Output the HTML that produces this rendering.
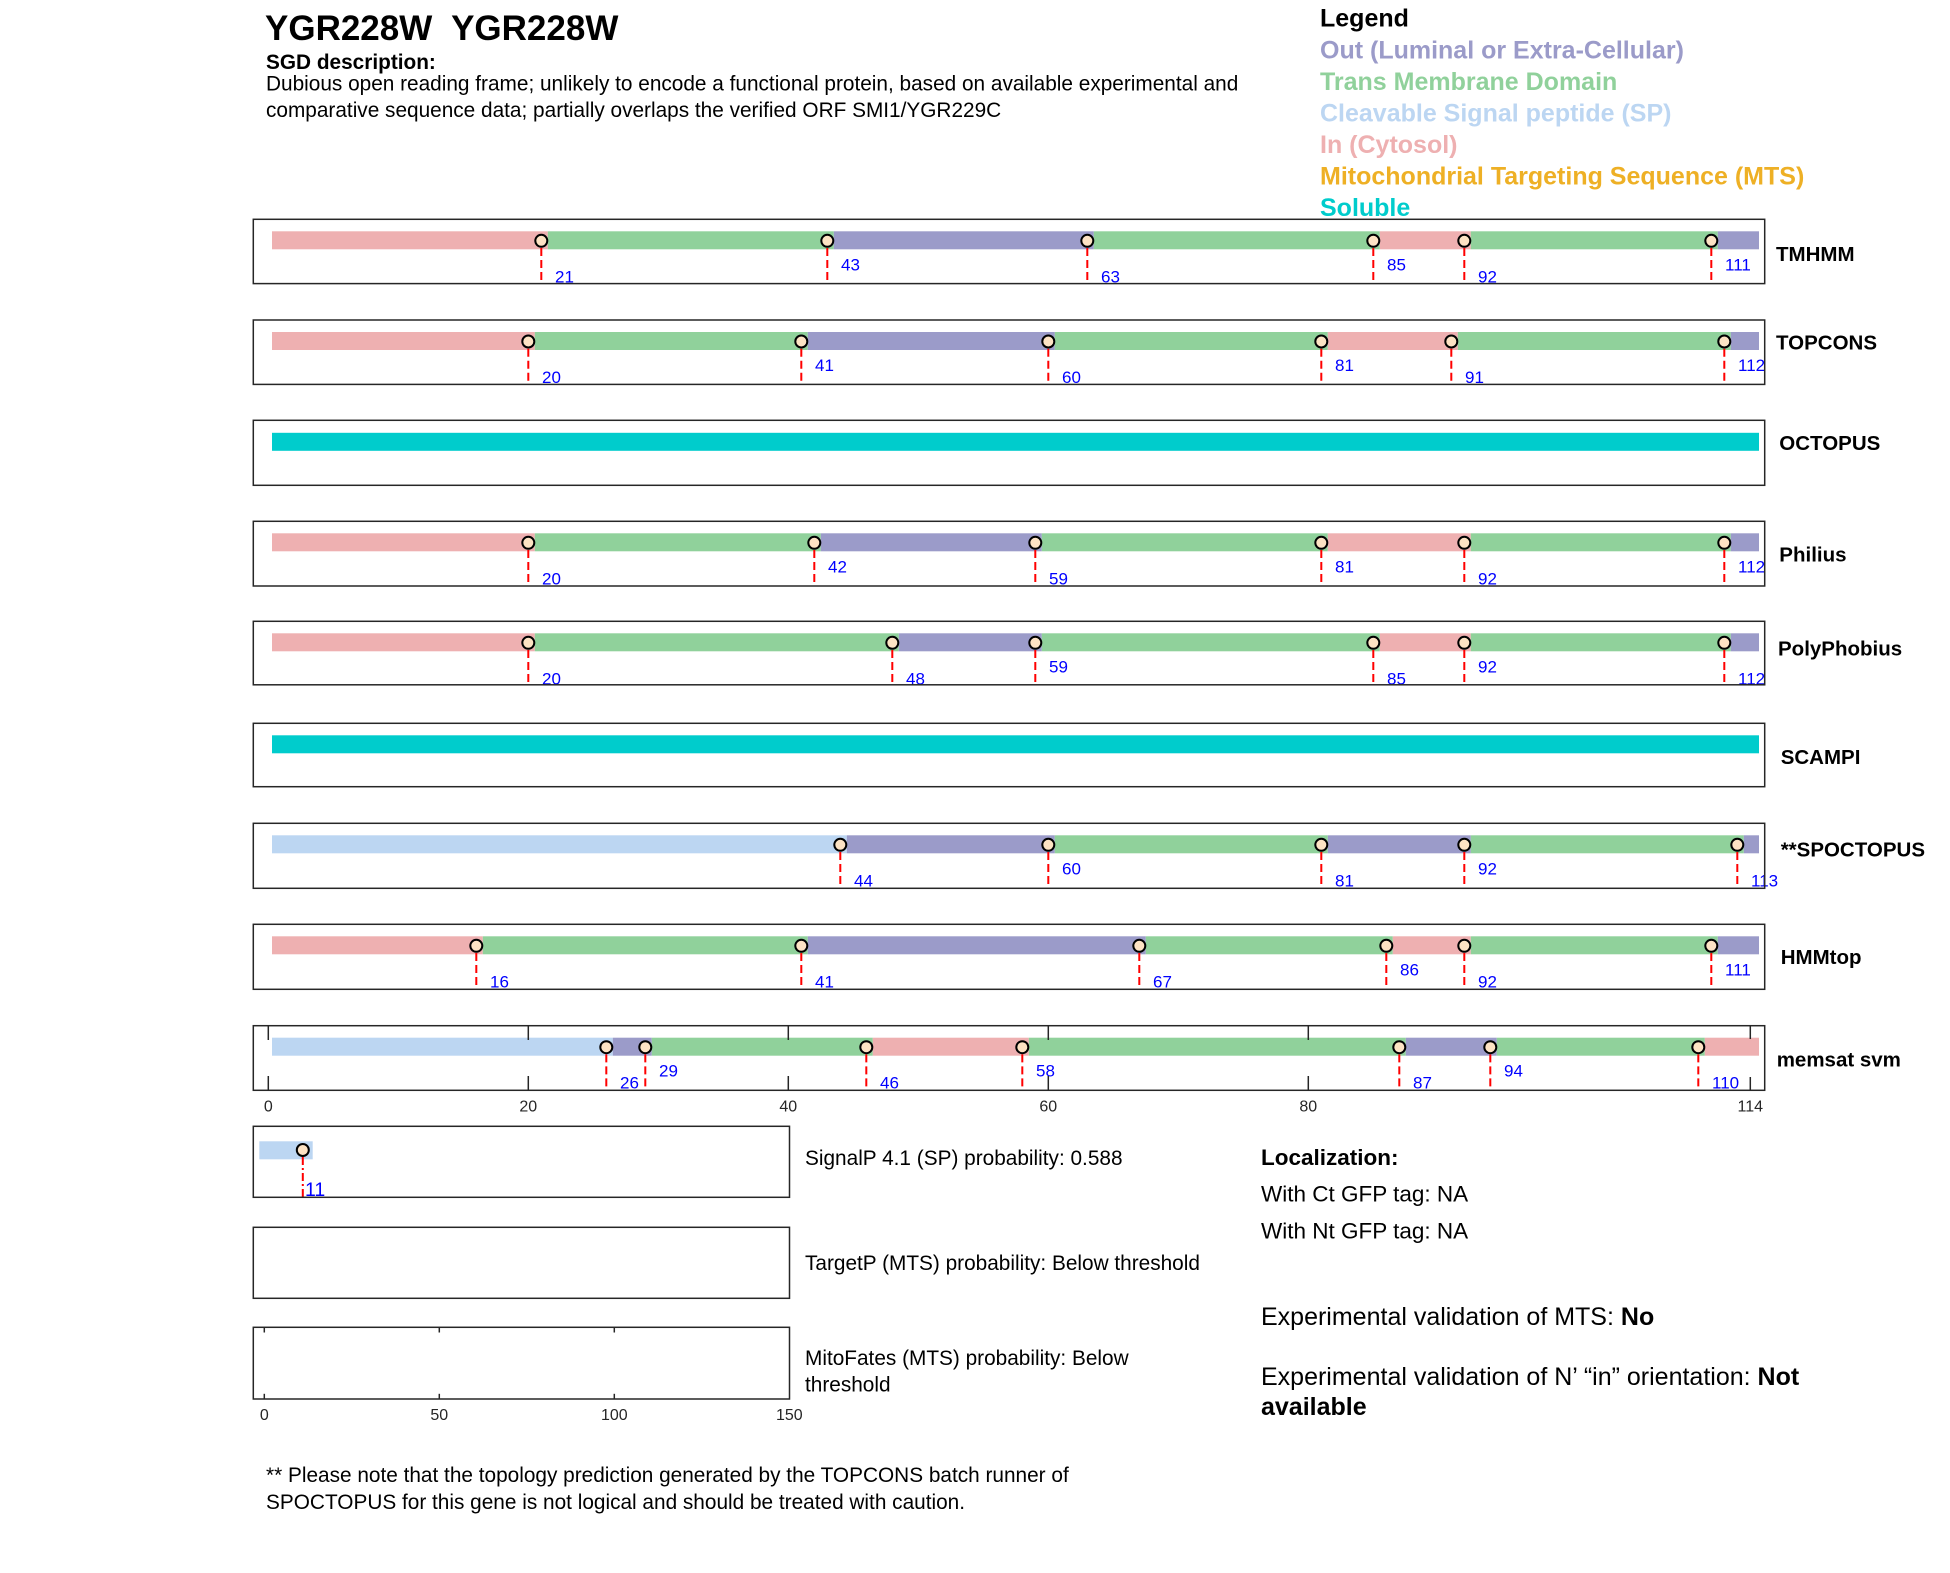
<!DOCTYPE html>
<html>
<head>
<meta charset="utf-8">
<style>
html,body{margin:0;padding:0;background:#fff;}
svg{display:block;}
.f{font-family:"Liberation Sans",Arial,sans-serif;}
.b{font-weight:bold;}
.pan{fill:none;stroke:#262626;stroke-width:1.5;}
.d{stroke:#ff0000;stroke-width:2;stroke-dasharray:8,4;}
.m{fill:#fde3c4;stroke:#000;stroke-width:2;}
.n{fill:#0000ff;font-size:17px;font-family:"Liberation Sans",Arial,sans-serif;}
.lab{font-size:20.5px;font-weight:bold;font-family:"Liberation Sans",Arial,sans-serif;fill:#000;}
.tk{stroke:#262626;stroke-width:1.5;}
.tl{fill:#262626;font-size:16px;font-family:"Liberation Sans",Arial,sans-serif;text-anchor:middle;}
.P{fill:#eeb0b1;}
.G{fill:#90d19b;}
.U{fill:#9b9bc9;}
.L{fill:#bcd6f2;}
.S{fill:#00cccc;}
</style>
</head>
<body>
<svg width="1950" height="1573" viewBox="0 0 1950 1573" xmlns="http://www.w3.org/2000/svg">
<rect x="0" y="0" width="1950" height="1573" fill="#fff"/>

<!-- Title & description -->
<text x="265" y="40" class="f b" font-size="35" xml:space="preserve">YGR228W&#160; YGR228W</text>
<text x="266" y="69" class="f b" font-size="20.8">SGD description:</text>
<text x="266" y="90.5" class="f" font-size="20.8">Dubious open reading frame; unlikely to encode a functional protein, based on available experimental and</text>
<text x="266" y="117" class="f" font-size="20.8">comparative sequence data; partially overlaps the verified ORF SMI1/YGR229C</text>

<!-- Legend -->
<g class="f b" font-size="25">
<text x="1320" y="26.5" fill="#000">Legend</text>
<text x="1320" y="58.5" fill="#9b9bc9">Out (Luminal or Extra-Cellular)</text>
<text x="1320" y="90" fill="#90d19b">Trans Membrane Domain</text>
<text x="1320" y="121.5" fill="#bcd6f2">Cleavable Signal peptide (SP)</text>
<text x="1320" y="153" fill="#eeb0b1">In (Cytosol)</text>
<text x="1320" y="184.5" fill="#eeb025">Mitochondrial Targeting Sequence (MTS)</text>
<text x="1320" y="216" fill="#00cccc">Soluble</text>
</g>

<!-- TMHMM T=219.3 -->
<g>
<rect x="272" y="231.3" width="275.8" height="18" class="P"/>
<rect x="547.8" y="231.3" width="286" height="18" class="G"/>
<rect x="833.8" y="231.3" width="260" height="18" class="U"/>
<rect x="1093.8" y="231.3" width="286" height="18" class="G"/>
<rect x="1379.8" y="231.3" width="91" height="18" class="P"/>
<rect x="1470.8" y="231.3" width="247" height="18" class="G"/>
<rect x="1717.8" y="231.3" width="41.2" height="18" class="U"/>
<line x1="541.3" y1="248" x2="541.3" y2="283.5" class="d"/><circle cx="541.3" cy="240.8" r="6" class="m"/><text x="555" y="282.3" class="n">21</text>
<line x1="827.3" y1="248" x2="827.3" y2="283.5" class="d"/><circle cx="827.3" cy="240.8" r="6" class="m"/><text x="841" y="270.3" class="n">43</text>
<line x1="1087.3" y1="248" x2="1087.3" y2="283.5" class="d"/><circle cx="1087.3" cy="240.8" r="6" class="m"/><text x="1101" y="282.3" class="n">63</text>
<line x1="1373.3" y1="248" x2="1373.3" y2="283.5" class="d"/><circle cx="1373.3" cy="240.8" r="6" class="m"/><text x="1387" y="270.3" class="n">85</text>
<line x1="1464.3" y1="248" x2="1464.3" y2="283.5" class="d"/><circle cx="1464.3" cy="240.8" r="6" class="m"/><text x="1478" y="282.3" class="n">92</text>
<line x1="1711.3" y1="248" x2="1711.3" y2="283.5" class="d"/><circle cx="1711.3" cy="240.8" r="6" class="m"/><text x="1725" y="270.3" class="n">111</text>
<rect x="253.3" y="219.3" width="1511.4" height="64.3" class="pan"/>
<text x="1776" y="261" class="lab">TMHMM</text>
</g>

<!-- TOPCONS T=320 -->
<g>
<rect x="272" y="332" width="262.8" height="18" class="P"/>
<rect x="534.8" y="332" width="273" height="18" class="G"/>
<rect x="807.8" y="332" width="247" height="18" class="U"/>
<rect x="1054.8" y="332" width="273" height="18" class="G"/>
<rect x="1327.8" y="332" width="130" height="18" class="P"/>
<rect x="1457.8" y="332" width="273" height="18" class="G"/>
<rect x="1730.8" y="332" width="28.2" height="18" class="U"/>
<line x1="528.3" y1="348.7" x2="528.3" y2="384.5" class="d"/><circle cx="528.3" cy="341.5" r="6" class="m"/><text x="542" y="383" class="n">20</text>
<line x1="801.3" y1="348.7" x2="801.3" y2="384.5" class="d"/><circle cx="801.3" cy="341.5" r="6" class="m"/><text x="815" y="371" class="n">41</text>
<line x1="1048.3" y1="348.7" x2="1048.3" y2="384.5" class="d"/><circle cx="1048.3" cy="341.5" r="6" class="m"/><text x="1062" y="383" class="n">60</text>
<line x1="1321.3" y1="348.7" x2="1321.3" y2="384.5" class="d"/><circle cx="1321.3" cy="341.5" r="6" class="m"/><text x="1335" y="371" class="n">81</text>
<line x1="1451.3" y1="348.7" x2="1451.3" y2="384.5" class="d"/><circle cx="1451.3" cy="341.5" r="6" class="m"/><text x="1465" y="383" class="n">91</text>
<line x1="1724.3" y1="348.7" x2="1724.3" y2="384.5" class="d"/><circle cx="1724.3" cy="341.5" r="6" class="m"/><text x="1738" y="371" class="n">112</text>
<rect x="253.3" y="320" width="1511.4" height="64.4" class="pan"/>
<text x="1776" y="349.3" class="lab">TOPCONS</text>
</g>

<!-- OCTOPUS T=420.3 -->
<g>
<rect x="272" y="432.8" width="1487" height="18" class="S"/>
<rect x="253.3" y="420.3" width="1511.4" height="65" class="pan"/>
<text x="1779.3" y="450" class="lab">OCTOPUS</text>
</g>

<!-- Philius T=521.3 -->
<g>
<rect x="272" y="533.3" width="262.8" height="18" class="P"/>
<rect x="534.8" y="533.3" width="286" height="18" class="G"/>
<rect x="820.8" y="533.3" width="221" height="18" class="U"/>
<rect x="1041.8" y="533.3" width="286" height="18" class="G"/>
<rect x="1327.8" y="533.3" width="143" height="18" class="P"/>
<rect x="1470.8" y="533.3" width="260" height="18" class="G"/>
<rect x="1730.8" y="533.3" width="28.2" height="18" class="U"/>
<line x1="528.3" y1="550" x2="528.3" y2="586" class="d"/><circle cx="528.3" cy="542.8" r="6" class="m"/><text x="542" y="584.3" class="n">20</text>
<line x1="814.3" y1="550" x2="814.3" y2="586" class="d"/><circle cx="814.3" cy="542.8" r="6" class="m"/><text x="828" y="572.3" class="n">42</text>
<line x1="1035.3" y1="550" x2="1035.3" y2="586" class="d"/><circle cx="1035.3" cy="542.8" r="6" class="m"/><text x="1049" y="584.3" class="n">59</text>
<line x1="1321.3" y1="550" x2="1321.3" y2="586" class="d"/><circle cx="1321.3" cy="542.8" r="6" class="m"/><text x="1335" y="572.3" class="n">81</text>
<line x1="1464.3" y1="550" x2="1464.3" y2="586" class="d"/><circle cx="1464.3" cy="542.8" r="6" class="m"/><text x="1478" y="584.3" class="n">92</text>
<line x1="1724.3" y1="550" x2="1724.3" y2="586" class="d"/><circle cx="1724.3" cy="542.8" r="6" class="m"/><text x="1738" y="572.3" class="n">112</text>
<rect x="253.3" y="521.3" width="1511.4" height="64.7" class="pan"/>
<text x="1779.3" y="561.7" class="lab">Philius</text>
</g>

<!-- PolyPhobius T=621.3 -->
<g>
<rect x="272" y="633.3" width="262.8" height="18" class="P"/>
<rect x="534.8" y="633.3" width="364" height="18" class="G"/>
<rect x="898.8" y="633.3" width="143" height="18" class="U"/>
<rect x="1041.8" y="633.3" width="338" height="18" class="G"/>
<rect x="1379.8" y="633.3" width="91" height="18" class="P"/>
<rect x="1470.8" y="633.3" width="260" height="18" class="G"/>
<rect x="1730.8" y="633.3" width="28.2" height="18" class="U"/>
<line x1="528.3" y1="650" x2="528.3" y2="685" class="d"/><circle cx="528.3" cy="642.8" r="6" class="m"/><text x="542" y="684.3" class="n">20</text>
<line x1="892.3" y1="650" x2="892.3" y2="685" class="d"/><circle cx="892.3" cy="642.8" r="6" class="m"/><text x="906" y="684.3" class="n">48</text>
<line x1="1035.3" y1="650" x2="1035.3" y2="685" class="d"/><circle cx="1035.3" cy="642.8" r="6" class="m"/><text x="1049" y="672.3" class="n">59</text>
<line x1="1373.3" y1="650" x2="1373.3" y2="685" class="d"/><circle cx="1373.3" cy="642.8" r="6" class="m"/><text x="1387" y="684.3" class="n">85</text>
<line x1="1464.3" y1="650" x2="1464.3" y2="685" class="d"/><circle cx="1464.3" cy="642.8" r="6" class="m"/><text x="1478" y="672.3" class="n">92</text>
<line x1="1724.3" y1="650" x2="1724.3" y2="685" class="d"/><circle cx="1724.3" cy="642.8" r="6" class="m"/><text x="1738" y="684.3" class="n">112</text>
<rect x="253.3" y="621.3" width="1511.4" height="63.5" class="pan"/>
<text x="1778" y="655.7" class="lab">PolyPhobius</text>
</g>

<!-- SCAMPI T=723.3 -->
<g>
<rect x="272" y="735.3" width="1487" height="18" class="S"/>
<rect x="253.3" y="723.3" width="1511.4" height="63.4" class="pan"/>
<text x="1780.7" y="764" class="lab">SCAMPI</text>
</g>

<!-- SPOCTOPUS T=823.3 -->
<g>
<rect x="272" y="835.3" width="574.8" height="18" class="L"/>
<rect x="846.8" y="835.3" width="208" height="18" class="U"/>
<rect x="1054.8" y="835.3" width="273" height="18" class="G"/>
<rect x="1327.8" y="835.3" width="143" height="18" class="U"/>
<rect x="1470.8" y="835.3" width="273" height="18" class="G"/>
<rect x="1743.8" y="835.3" width="15.2" height="18" class="U"/>
<line x1="840.3" y1="852" x2="840.3" y2="888" class="d"/><circle cx="840.3" cy="844.8" r="6" class="m"/><text x="854" y="886.3" class="n">44</text>
<line x1="1048.3" y1="852" x2="1048.3" y2="888" class="d"/><circle cx="1048.3" cy="844.8" r="6" class="m"/><text x="1062" y="874.3" class="n">60</text>
<line x1="1321.3" y1="852" x2="1321.3" y2="888" class="d"/><circle cx="1321.3" cy="844.8" r="6" class="m"/><text x="1335" y="886.3" class="n">81</text>
<line x1="1464.3" y1="852" x2="1464.3" y2="888" class="d"/><circle cx="1464.3" cy="844.8" r="6" class="m"/><text x="1478" y="874.3" class="n">92</text>
<line x1="1737.3" y1="852" x2="1737.3" y2="888" class="d"/><circle cx="1737.3" cy="844.8" r="6" class="m"/><text x="1751" y="886.3" class="n">113</text>
<rect x="253.3" y="823.3" width="1511.4" height="65" class="pan"/>
<text x="1780.7" y="856.7" class="lab">**SPOCTOPUS</text>
</g>

<!-- HMMtop T=924.3 -->
<g>
<rect x="272" y="936.3" width="210.8" height="18" class="P"/>
<rect x="482.8" y="936.3" width="325" height="18" class="G"/>
<rect x="807.8" y="936.3" width="338" height="18" class="U"/>
<rect x="1145.8" y="936.3" width="247" height="18" class="G"/>
<rect x="1392.8" y="936.3" width="78" height="18" class="P"/>
<rect x="1470.8" y="936.3" width="247" height="18" class="G"/>
<rect x="1717.8" y="936.3" width="41.2" height="18" class="U"/>
<line x1="476.3" y1="953" x2="476.3" y2="989" class="d"/><circle cx="476.3" cy="945.8" r="6" class="m"/><text x="490" y="987.3" class="n">16</text>
<line x1="801.3" y1="953" x2="801.3" y2="989" class="d"/><circle cx="801.3" cy="945.8" r="6" class="m"/><text x="815" y="987.3" class="n">41</text>
<line x1="1139.3" y1="953" x2="1139.3" y2="989" class="d"/><circle cx="1139.3" cy="945.8" r="6" class="m"/><text x="1153" y="987.3" class="n">67</text>
<line x1="1386.3" y1="953" x2="1386.3" y2="989" class="d"/><circle cx="1386.3" cy="945.8" r="6" class="m"/><text x="1400" y="975.3" class="n">86</text>
<line x1="1464.3" y1="953" x2="1464.3" y2="989" class="d"/><circle cx="1464.3" cy="945.8" r="6" class="m"/><text x="1478" y="987.3" class="n">92</text>
<line x1="1711.3" y1="953" x2="1711.3" y2="989" class="d"/><circle cx="1711.3" cy="945.8" r="6" class="m"/><text x="1725" y="975.3" class="n">111</text>
<rect x="253.3" y="924.3" width="1511.4" height="65" class="pan"/>
<text x="1780.7" y="964" class="lab">HMMtop</text>
</g>

<!-- memsat svm T=1025.7 -->
<g>
<rect x="272" y="1037.7" width="340.8" height="18" class="L"/>
<rect x="612.8" y="1037.7" width="39" height="18" class="U"/>
<rect x="651.8" y="1037.7" width="221" height="18" class="G"/>
<rect x="872.8" y="1037.7" width="156" height="18" class="P"/>
<rect x="1028.8" y="1037.7" width="377" height="18" class="G"/>
<rect x="1405.8" y="1037.7" width="91" height="18" class="U"/>
<rect x="1496.8" y="1037.7" width="208" height="18" class="G"/>
<rect x="1704.8" y="1037.7" width="54.2" height="18" class="P"/>
<line x1="606.3" y1="1054.4" x2="606.3" y2="1090" class="d"/><circle cx="606.3" cy="1047.2" r="6" class="m"/><text x="620" y="1088.7" class="n">26</text>
<line x1="645.3" y1="1054.4" x2="645.3" y2="1090" class="d"/><circle cx="645.3" cy="1047.2" r="6" class="m"/><text x="659" y="1076.7" class="n">29</text>
<line x1="866.3" y1="1054.4" x2="866.3" y2="1090" class="d"/><circle cx="866.3" cy="1047.2" r="6" class="m"/><text x="880" y="1088.7" class="n">46</text>
<line x1="1022.3" y1="1054.4" x2="1022.3" y2="1090" class="d"/><circle cx="1022.3" cy="1047.2" r="6" class="m"/><text x="1036" y="1076.7" class="n">58</text>
<line x1="1399.3" y1="1054.4" x2="1399.3" y2="1090" class="d"/><circle cx="1399.3" cy="1047.2" r="6" class="m"/><text x="1413" y="1088.7" class="n">87</text>
<line x1="1490.3" y1="1054.4" x2="1490.3" y2="1090" class="d"/><circle cx="1490.3" cy="1047.2" r="6" class="m"/><text x="1504" y="1076.7" class="n">94</text>
<line x1="1698.3" y1="1054.4" x2="1698.3" y2="1090" class="d"/><circle cx="1698.3" cy="1047.2" r="6" class="m"/><text x="1712" y="1088.7" class="n">110</text>
<rect x="253.3" y="1025.7" width="1511.4" height="64.6" class="pan"/>
<!-- ticks -->
<line x1="268.3" y1="1025.7" x2="268.3" y2="1040" class="tk"/><line x1="268.3" y1="1076" x2="268.3" y2="1090.3" class="tk"/>
<line x1="528.3" y1="1025.7" x2="528.3" y2="1040" class="tk"/><line x1="528.3" y1="1076" x2="528.3" y2="1090.3" class="tk"/>
<line x1="788.3" y1="1025.7" x2="788.3" y2="1040" class="tk"/><line x1="788.3" y1="1076" x2="788.3" y2="1090.3" class="tk"/>
<line x1="1048.3" y1="1025.7" x2="1048.3" y2="1040" class="tk"/><line x1="1048.3" y1="1076" x2="1048.3" y2="1090.3" class="tk"/>
<line x1="1308.3" y1="1025.7" x2="1308.3" y2="1040" class="tk"/><line x1="1308.3" y1="1076" x2="1308.3" y2="1090.3" class="tk"/>
<line x1="1750.3" y1="1025.7" x2="1750.3" y2="1039" class="tk"/><line x1="1750.3" y1="1077" x2="1750.3" y2="1090.3" class="tk"/>
<text x="268.3" y="1111.7" class="tl">0</text>
<text x="528.3" y="1111.7" class="tl">20</text>
<text x="788.3" y="1111.7" class="tl">40</text>
<text x="1048.3" y="1111.7" class="tl">60</text>
<text x="1308.3" y="1111.7" class="tl">80</text>
<text x="1750.3" y="1111.7" class="tl">114</text>
<text x="1776.7" y="1066.7" class="lab">memsat svm</text>
</g>

<!-- SignalP panel -->
<g>
<rect x="259.3" y="1141.3" width="53.4" height="18" class="L"/>
<line x1="302.8" y1="1157" x2="302.8" y2="1197.3" stroke="#ff0000" stroke-width="2" stroke-dasharray="8,3,2,3"/>
<circle cx="302.8" cy="1150" r="6" class="m"/>
<text x="305" y="1196" fill="#0000ff" font-size="19.5" class="f">11</text>
<rect x="253.3" y="1126.3" width="536.2" height="71" class="pan"/>
</g>
<!-- TargetP panel -->
<rect x="253.3" y="1227.3" width="536.2" height="71" class="pan"/>
<!-- MitoFates panel -->
<g>
<rect x="253.3" y="1327.3" width="536.2" height="71.7" class="pan"/>
<line x1="264.3" y1="1327.3" x2="264.3" y2="1332.5" class="tk"/><line x1="264.3" y1="1393.8" x2="264.3" y2="1399" class="tk"/>
<line x1="439.3" y1="1327.3" x2="439.3" y2="1332.5" class="tk"/><line x1="439.3" y1="1393.8" x2="439.3" y2="1399" class="tk"/>
<line x1="614.3" y1="1327.3" x2="614.3" y2="1332.5" class="tk"/><line x1="614.3" y1="1393.8" x2="614.3" y2="1399" class="tk"/>
<text x="264.3" y="1420" class="tl">0</text>
<text x="439.3" y="1420" class="tl">50</text>
<text x="614.3" y="1420" class="tl">100</text>
<text x="789.3" y="1420" class="tl">150</text>
</g>

<!-- probability texts -->
<g class="f" font-size="20.8" fill="#000">
<text x="805" y="1165">SignalP 4.1 (SP) probability: 0.588</text>
<text x="805" y="1270">TargetP (MTS) probability: Below threshold</text>
<text x="805" y="1365">MitoFates (MTS) probability: Below</text>
<text x="805" y="1391.7">threshold</text>
</g>

<!-- Localization -->
<g class="f" fill="#000">
<text x="1261" y="1165" font-size="22.5" font-weight="bold">Localization:</text>
<text x="1261" y="1201.7" font-size="22.5">With Ct GFP tag: NA</text>
<text x="1261" y="1238.3" font-size="22.5">With Nt GFP tag: NA</text>
<text x="1261" y="1325" font-size="25">Experimental validation of MTS: <tspan font-weight="bold">No</tspan></text>
<text x="1261" y="1385" font-size="25">Experimental validation of N’ “in” orientation: <tspan font-weight="bold">Not</tspan></text>
<text x="1261" y="1415" font-size="25" font-weight="bold">available</text>
</g>

<!-- footnote -->
<g class="f" font-size="20.8" fill="#000">
<text x="266" y="1482">** Please note that the topology prediction generated by the TOPCONS batch runner of</text>
<text x="266" y="1509">SPOCTOPUS for this gene is not logical and should be treated with caution.</text>
</g>
</svg>
</body>
</html>
